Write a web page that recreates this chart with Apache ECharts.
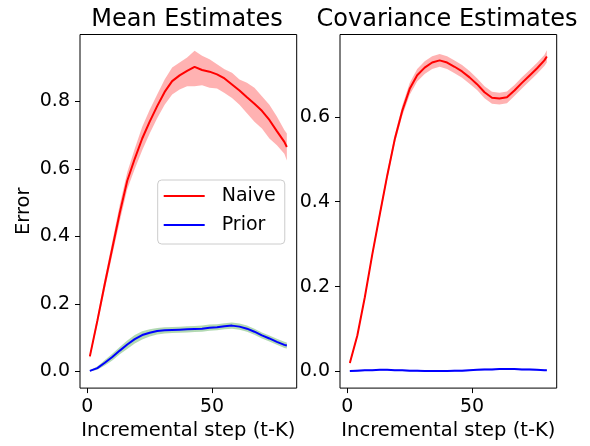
<!DOCTYPE html>
<html>
<head>
<meta charset="utf-8">
<style>html,body,#chart{margin:0;padding:0;width:590px;height:446px;background:#fff}</style>
<script src="https://cdn.jsdelivr.net/npm/echarts@6/dist/echarts.min.js"></script>
</head>
<body>
<div id="chart"></div>
<script>
// incremental steps (t-K)
const steps = [1, 4, 7, 10, 13, 16, 19, 22, 25, 28, 31, 34, 37, 40, 43, 46, 49, 52, 55, 58, 61, 64, 67, 70, 73, 76, 79, 80];

// Mean estimates
const meanNaive     = [0.045, 0.150, 0.260, 0.365, 0.470, 0.565, 0.630, 0.690, 0.740, 0.786, 0.828, 0.860, 0.877, 0.890, 0.902, 0.893, 0.888, 0.880, 0.868, 0.850, 0.832, 0.812, 0.793, 0.772, 0.745, 0.712, 0.680, 0.665];
const meanNaiveLow  = [0.038, 0.138, 0.244, 0.345, 0.445, 0.540, 0.600, 0.655, 0.705, 0.750, 0.790, 0.820, 0.835, 0.845, 0.845, 0.848, 0.840, 0.838, 0.825, 0.810, 0.790, 0.765, 0.740, 0.720, 0.690, 0.670, 0.645, 0.625];
const meanNaiveHigh = [0.052, 0.162, 0.276, 0.385, 0.495, 0.590, 0.660, 0.725, 0.775, 0.820, 0.865, 0.900, 0.915, 0.930, 0.950, 0.935, 0.925, 0.910, 0.895, 0.885, 0.865, 0.855, 0.840, 0.815, 0.790, 0.755, 0.715, 0.705];
const meanPrior     = [0.002, 0.010, 0.026, 0.043, 0.062, 0.080, 0.096, 0.108, 0.115, 0.120, 0.122, 0.123, 0.124, 0.125, 0.126, 0.127, 0.130, 0.131, 0.134, 0.136, 0.133, 0.127, 0.118, 0.107, 0.098, 0.088, 0.079, 0.077];
const meanPriorLow  = [0.000, 0.005, 0.018, 0.033, 0.051, 0.067, 0.083, 0.095, 0.104, 0.110, 0.113, 0.114, 0.115, 0.116, 0.117, 0.118, 0.121, 0.122, 0.125, 0.127, 0.124, 0.118, 0.109, 0.098, 0.089, 0.079, 0.070, 0.068];
const meanPriorHigh = [0.004, 0.015, 0.034, 0.053, 0.073, 0.092, 0.108, 0.119, 0.125, 0.129, 0.131, 0.132, 0.133, 0.134, 0.135, 0.136, 0.139, 0.140, 0.143, 0.145, 0.142, 0.136, 0.127, 0.116, 0.107, 0.097, 0.088, 0.086];

// Covariance estimates
const covNaive      = [0.020, 0.085, 0.175, 0.276, 0.370, 0.462, 0.547, 0.614, 0.666, 0.698, 0.716, 0.728, 0.733, 0.728, 0.718, 0.707, 0.693, 0.677, 0.658, 0.645, 0.643, 0.646, 0.662, 0.680, 0.697, 0.714, 0.733, 0.742];
const covNaiveLow   = [0.016, 0.080, 0.169, 0.269, 0.362, 0.453, 0.537, 0.602, 0.652, 0.683, 0.701, 0.713, 0.718, 0.713, 0.703, 0.692, 0.678, 0.663, 0.644, 0.631, 0.629, 0.632, 0.649, 0.667, 0.684, 0.701, 0.720, 0.728];
const covNaiveHigh  = [0.024, 0.090, 0.181, 0.283, 0.378, 0.471, 0.557, 0.626, 0.680, 0.713, 0.731, 0.743, 0.748, 0.743, 0.733, 0.722, 0.708, 0.691, 0.672, 0.659, 0.657, 0.660, 0.675, 0.693, 0.710, 0.727, 0.746, 0.757];
const covPrior      = [0.001, 0.002, 0.003, 0.003, 0.004, 0.004, 0.003, 0.003, 0.002, 0.002, 0.001, 0.001, 0.001, 0.001, 0.002, 0.002, 0.003, 0.004, 0.005, 0.005, 0.006, 0.006, 0.006, 0.005, 0.005, 0.004, 0.003, 0.003];
const covPriorLow   = [-0.001, 0.000, 0.001, 0.001, 0.002, 0.002, 0.001, 0.001, 0.000, 0.000, -0.001, -0.001, -0.001, -0.001, 0.000, 0.000, 0.001, 0.002, 0.003, 0.003, 0.004, 0.004, 0.004, 0.003, 0.003, 0.002, 0.001, 0.001];
const covPriorHigh  = [0.003, 0.004, 0.005, 0.005, 0.006, 0.006, 0.005, 0.005, 0.004, 0.004, 0.003, 0.003, 0.003, 0.003, 0.004, 0.004, 0.005, 0.006, 0.007, 0.007, 0.008, 0.008, 0.008, 0.007, 0.007, 0.006, 0.005, 0.005];

const xTicks = [0, 50];
const meanYTicks = [0, 0.2, 0.4, 0.6, 0.8];
const covYTicks = [0, 0.2, 0.4, 0.6];

const FONT = 'DejaVu Sans';
const pairs = (ys) => steps.map((x, i) => [x, ys[i]]);

// shaded band between lo and hi, drawn as one polygon through the axis scales
function band(idx, lo, hi, color) {
  return {
    type: 'custom', xAxisIndex: idx, yAxisIndex: idx, silent: true, z: 1, clip: true,
    data: steps.map((x, i) => [x, lo[i], hi[i]]),
    encode: { x: 0, y: [1, 2] },
    renderItem: (params, api) => {
      if (params.dataIndex !== 0) return null;
      const top = steps.map((x, i) => api.coord([x, hi[i]]));
      const bot = steps.map((x, i) => api.coord([x, lo[i]])).reverse();
      return { type: 'polygon', shape: { points: top.concat(bot) }, style: { fill: color } };
    }
  };
}
function line(idx, name, ys, color) {
  return { name: name, type: 'line', xAxisIndex: idx, yAxisIndex: idx, data: pairs(ys), symbol: 'none',
    itemStyle: { color: color }, lineStyle: { color: color, width: 2 }, z: 3 };
}
function xAxis(idx) {
  return {
    gridIndex: idx, type: 'value', min: -2.95, max: 83.95,
    name: 'Incremental step (t-K)', nameLocation: 'middle', nameGap: 30,
    nameTextStyle: { fontFamily: FONT, fontSize: 19.5, color: '#000' },
    axisLine: { show: false, onZero: false },
    axisTick: { show: true, length: 5, inside: false, customValues: xTicks, lineStyle: { color: '#000' } },
    axisLabel: { customValues: xTicks, margin: 9, fontFamily: FONT, fontSize: 19, color: '#000' },
    splitLine: { show: false }
  };
}
function yAxis(idx, min, max, ticks, name) {
  return {
    gridIndex: idx, type: 'value', min: min, max: max,
    name: name, nameLocation: 'middle', nameGap: 46,
    nameTextStyle: { fontFamily: FONT, fontSize: 19.5, color: '#000' },
    axisLine: { show: false, onZero: false },
    axisTick: { show: true, length: 5, inside: false, customValues: ticks, lineStyle: { color: '#000' } },
    axisLabel: { customValues: ticks, margin: 10, fontFamily: FONT, fontSize: 19, color: '#000',
      formatter: v => v.toFixed(1) },
    splitLine: { show: false }
  };
}

const chart = echarts.init(document.getElementById('chart'), null, { renderer: 'canvas' });
chart.setOption({
  animation: false,
  backgroundColor: '#fff',
  title: [
    { text: 'Mean Estimates', left: 182, top: 3, textAlign: 'center',
      textStyle: { fontFamily: FONT, fontSize: 24, fontWeight: 'normal', color: '#000' } },
    { text: 'Covariance Estimates', left: 442, top: 3, textAlign: 'center',
      textStyle: { fontFamily: FONT, fontSize: 24, fontWeight: 'normal', color: '#000' } }
  ],
  grid: [
    { left: 80, top: 34.5, width: 216.7, height: 356.2, show: true, borderColor: '#000', borderWidth: 1, backgroundColor: 'transparent' },
    { left: 340, top: 34.5, width: 216.7, height: 356.2, show: true, borderColor: '#000', borderWidth: 1, backgroundColor: 'transparent' }
  ],
  legend: {
    data: ['Naive', 'Prior'], orient: 'vertical', left: 157.7, top: 180,
    padding: [6, 9, 9, 6], itemGap: 9, itemWidth: 41, itemHeight: 2, icon: 'rect',
    backgroundColor: '#fff', borderColor: '#ccc', borderWidth: 1, borderRadius: 4,
    textStyle: { fontFamily: FONT, fontSize: 19, color: '#000', lineHeight: 20, padding: [0, 0, 0, 12] }
  },
  xAxis: [xAxis(0), xAxis(1)],
  yAxis: [yAxis(0, -0.049, 0.998, meanYTicks, 'Error'), yAxis(1, -0.039, 0.794, covYTicks, '')],
  series: [
    band(0, meanNaiveLow, meanNaiveHigh, 'rgba(255,0,0,0.3)'),
    band(0, meanPriorLow, meanPriorHigh, 'rgba(0,128,0,0.3)'),
    line(0, 'Naive', meanNaive, '#ff0000'),
    line(0, 'Prior', meanPrior, '#0000ff'),
    band(1, covNaiveLow, covNaiveHigh, 'rgba(255,0,0,0.3)'),
    band(1, covPriorLow, covPriorHigh, 'rgba(0,0,255,0.3)'),
    line(1, 'Naive', covNaive, '#ff0000'),
    line(1, 'Prior', covPrior, '#0000ff')
  ]
});
</script>
</body>
</html>
